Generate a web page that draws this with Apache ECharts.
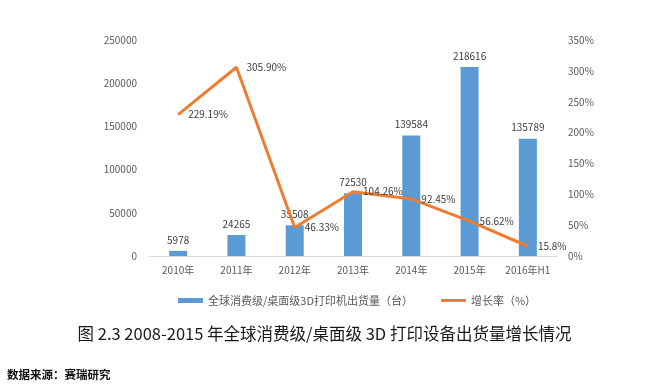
<!DOCTYPE html>
<html><head><meta charset="utf-8">
<script src="https://cdn.jsdelivr.net/npm/echarts@6/dist/echarts.min.js"></script>
<style>html,body{margin:0;padding:0;background:#fff}#c{width:649px;height:392px}</style>
</head><body><div id="c"></div>
<script>
const categories = ['2010年','2011年','2012年','2013年','2014年','2015年','2016年H1'];
const shipments = [5978, 24265, 35508, 72530, 139584, 218616, 135789];
const growth = [229.19, 305.90, 46.33, 104.26, 92.45, 56.62, 15.8];
const growthLabels = ['229.19%','305.90%','46.33%','104.26%','92.45%','56.62%','15.8%'];
const barName = '全球消费级/桌面级3D打印机出货量（台）';
const lineName = '增长率（%）';
const titleText = '图 2.3 2008-2015 年全球消费级/桌面级 3D 打印设备出货量增长情况';
const sourceText = '数据来源：赛瑞研究';

const font = '"Noto Sans CJK SC","Noto Sans",sans-serif';
const chart = echarts.init(document.getElementById('c'));
chart.setOption({
  animation: false,
  textStyle: {fontFamily: font},
  title: [
    {text: titleText, left: 'center', top: 320, textStyle: {fontSize: 16.5, fontWeight: 'normal', color: '#1a1a1a', fontFamily: font}},
    {text: sourceText, left: 2, top: 364, textStyle: {fontSize: 11.5, fontWeight: 'bold', color: '#111', fontFamily: font}}
  ],
  legend: {
    left: 173, top: 290, itemWidth: 25, itemHeight: 5, itemGap: 28,
    textStyle: {fontSize: 11, color: '#595959', fontFamily: font},
    data: [{name: barName, icon: 'rect'}, {name: lineName, icon: 'path://M0,0L25,0L25,3L0,3Z'}]
  },
  grid: {left: 149, right: 92, top: 40, bottom: 136},
  xAxis: {
    type: 'category', data: categories,
    axisLine: {lineStyle: {color: '#d9d9d9'}},
    axisTick: {show: false},
    axisLabel: {fontSize: 10, color: '#595959', margin: 9, interval: 0}
  },
  yAxis: [
    {type: 'value', min: 0, max: 250000, interval: 50000,
     splitLine: {show: false}, axisLine: {show: false}, axisTick: {show: false},
     axisLabel: {fontSize: 10, color: '#595959', margin: 12, formatter: v => String(v)}},
    {type: 'value', min: 0, max: 350, interval: 50,
     splitLine: {show: false}, axisLine: {show: false}, axisTick: {show: false},
     axisLabel: {fontSize: 10, color: '#595959', margin: 11, formatter: '{value}%'}}
  ],
  series: [
    {name: barName, type: 'bar', data: shipments, barWidth: 18,
     itemStyle: {color: '#5B9BD5'},
     label: {show: true, position: 'top', distance: 6, fontSize: 10, color: '#404040'}},
    {name: lineName, type: 'line', yAxisIndex: 1, data: growth,
     symbol: 'circle', symbolSize: 0.1, showSymbol: true,
     lineStyle: {color: '#ED7D31', width: 3}, itemStyle: {color: '#ED7D31'},
     label: {show: true, position: 'right', distance: 10, fontSize: 10, color: '#404040',
       formatter: p => growthLabels[p.dataIndex]}}
  ]
});
</script></body></html>
